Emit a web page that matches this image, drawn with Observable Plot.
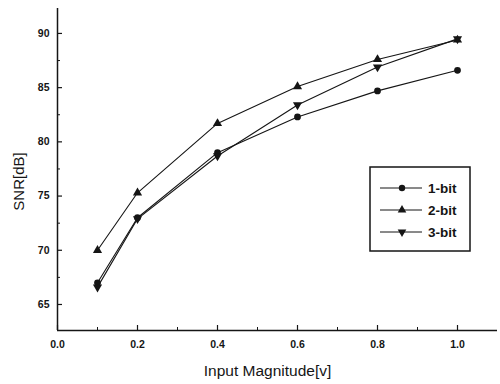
<!DOCTYPE html>
<html><head><meta charset="utf-8">
<script src="https://cdn.jsdelivr.net/npm/d3@7"></script>
<script src="https://cdn.jsdelivr.net/npm/@observablehq/plot@0.6"></script>
<style>
body{margin:0;background:#fff;}
#wrap{position:relative;width:500px;height:384px;font-family:"Liberation Sans",Arial,sans-serif;}
#legend{position:absolute;left:369px;top:166px;}
</style></head>
<body><div id="wrap"></div>
<script>
const inputs = [0.1, 0.2, 0.4, 0.6, 0.8, 1.0];
const snr1bit = [67.0, 73.0, 79.0, 82.3, 84.7, 86.6];
const snr2bit = [70.0, 75.3, 81.7, 85.1, 87.6, 89.4];
const snr3bit = [66.6, 72.9, 78.7, 83.4, 86.9, 89.5];
const seriesNames = ["1-bit", "2-bit", "3-bit"];
const xTicks = [0.0, 0.2, 0.4, 0.6, 0.8, 1.0];
const xMinor = [0.1, 0.3, 0.5, 0.7, 0.9];
const yTicks = [65, 70, 75, 80, 85, 90];
const yMinor = [67.5, 72.5, 77.5, 82.5, 87.5];
const xDomain = [0, 1.1];
const yDomain = [62.6, 92.3];
const xLabel = "Input Magnitude[v]";
const yLabel = "SNR[dB]";

const triangleDown = {
  draw(context, size) {
    const y = -Math.sqrt(size / (Math.sqrt(3) * 3));
    context.moveTo(0, -y * 2);
    context.lineTo(-Math.sqrt(3) * y, y);
    context.lineTo(Math.sqrt(3) * y, y);
    context.closePath();
  }
};
const symbols = [d3.symbolCircle, d3.symbolTriangle, triangleDown];

const series = [snr1bit, snr2bit, snr3bit];
const data = series.flatMap((vals, i) => vals.map((v, j) => ({x: inputs[j], y: v, s: seriesNames[i]})));

const W = 500, H = 384, mL = 57, mR = 3, mT = 8, mB = 54;
const fw = W - mL - mR, fh = H - mT - mB;
const ink = "#151515";
const font = '"Liberation Sans", Arial, sans-serif';
const chart = Plot.plot({
  width: W, height: H,
  marginLeft: mL, marginRight: mR, marginTop: mT, marginBottom: mB,
  style: {fontFamily: font, color: ink, background: "#fff"},
  x: {domain: xDomain, axis: null},
  y: {domain: yDomain, axis: null},
  symbol: {domain: seriesNames, range: symbols},
  marks: [
    Plot.ruleX([xDomain[0]], {stroke: ink, strokeWidth: 1.5}),
    Plot.ruleY([yDomain[0]], {stroke: ink, strokeWidth: 1.5}),
    Plot.tickX(xTicks, {x: d => d, stroke: ink, strokeWidth: 1.2, insetTop: fh - 5}),
    Plot.tickX(xMinor, {x: d => d, stroke: ink, strokeWidth: 1, insetTop: fh - 3}),
    Plot.tickY(yTicks, {y: d => d, stroke: ink, strokeWidth: 1.2, insetRight: fw - 5}),
    Plot.tickY(yMinor, {y: d => d, stroke: ink, strokeWidth: 1, insetRight: fw - 3}),
    Plot.text(xTicks, {x: d => d, text: d3.format(".1f"), frameAnchor: "bottom", lineAnchor: "top", dy: 10, fontSize: 10.5, fontWeight: "bold", fill: ink}),
    Plot.text(yTicks, {y: d => d, text: d => String(d), frameAnchor: "left", textAnchor: "end", dx: -8, fontSize: 10.5, fontWeight: "bold", fill: ink}),
    Plot.text([xLabel], {text: d => d, frameAnchor: "bottom", textAnchor: "middle", lineAnchor: "middle", dx: -10, dy: 41, fontSize: 15.5, fill: ink}),
    Plot.text([yLabel], {text: d => d, frameAnchor: "left", textAnchor: "middle", lineAnchor: "middle", rotate: -90, dx: -38, dy: 12, fontSize: 15, fill: ink}),
    Plot.line(data, {x: "x", y: "y", z: "s", stroke: ink, strokeWidth: 1.1}),
    Plot.dot(data, {x: "x", y: "y", symbol: "s", r: 3.4, fill: ink, stroke: "none"})
  ]
});
document.getElementById("wrap").appendChild(chart);

// legend
const leg = d3.select("#wrap").append("svg").attr("id", "legend").attr("width", 104).attr("height", 88);
leg.append("rect").attr("x", 1).attr("y", 1).attr("width", 100).attr("height", 84).attr("fill", "#fff").attr("stroke", ink).attr("stroke-width", 1.5);
seriesNames.forEach((name, i) => {
  const cy = 22 + i * 22;
  leg.append("line").attr("x1", 11).attr("x2", 53).attr("y1", cy).attr("y2", cy).attr("stroke", ink).attr("stroke-width", 1);
  leg.append("path").attr("d", d3.symbol(symbols[i], Math.PI * 3.2 * 3.2)()).attr("transform", `translate(33,${cy})`).attr("fill", ink);
  leg.append("text").attr("x", 59).attr("y", cy + 5).attr("font-size", 13.5).attr("font-weight", "bold").attr("fill", ink)
    .attr("font-family", font).text(name);
});
</script></body></html>
